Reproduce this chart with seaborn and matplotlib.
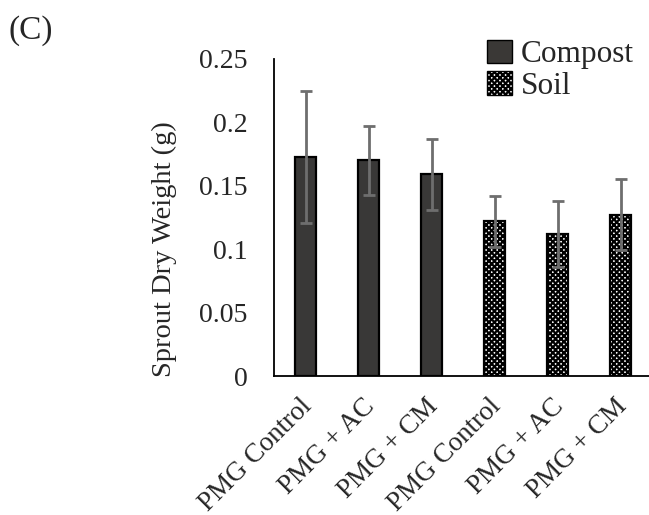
import matplotlib
matplotlib.use("Agg")
import matplotlib.pyplot as plt
import matplotlib.patches as mpatches
import matplotlib.transforms as mtransforms
import numpy as np
import pandas as pd
import seaborn as sns

# Sprout dry weight by treatment and growing medium
treatments = ["PMG Control", "PMG + AC", "PMG + CM", "PMG Control", "PMG + AC", "PMG + CM"]
media = ["Compost", "Compost", "Compost", "Soil", "Soil", "Soil"]
means = [0.173, 0.170, 0.159, 0.122, 0.112, 0.127]
errors = [0.052, 0.027, 0.028, 0.020, 0.026, 0.028]
y_ticks = [0, 0.05, 0.1, 0.15, 0.2, 0.25]
y_tick_labels = ["0", "0.05", "0.1", "0.15", "0.2", "0.25"]

sns.set_theme(style="white")
plt.rcParams["font.family"] = ["Liberation Serif", "DejaVu Serif"]
plt.rcParams["hatch.linewidth"] = 1.6
plt.rcParams["hatch.color"] = "black"

df = pd.DataFrame({
    "slot": [f"{m}|{t}" for m, t in zip(media, treatments)],
    "Treatment": treatments,
    "Medium": media,
    "Weight": means,
})

fig = plt.figure(figsize=(6.49, 5.15), dpi=100)
ax = fig.add_axes([274 / 649, 139 / 515, 378 / 649, 317 / 515])

palette = {"Compost": "#3a3836", "Soil": "white"}
sns.barplot(data=df, x="slot", y="Weight", hue="Medium", dodge=False,
            palette=palette, errorbar=None, width=0.333, ax=ax,
            edgecolor="black", linewidth=1.6, legend=False)

for patch, medium in zip(ax.patches, media):
    if medium == "Soil":
        patch.set_hatch("xxxxxx")

ax.errorbar(np.arange(len(means)), means, yerr=errors, fmt="none",
            ecolor="#6e6e6e", elinewidth=2.0, capsize=4.3, capthick=2.0, zorder=5)

ax.set_xlim(-0.5, len(means) - 0.5)
ax.set_ylim(0, 0.25)
ax.set_yticks(y_ticks)
ax.set_yticklabels(y_tick_labels, fontsize=20)
ax.set_xticks(np.arange(len(treatments)))
ax.set_xticklabels(treatments, rotation=45, ha="right", rotation_mode="anchor", fontsize=19.5)
ax.tick_params(axis="both", length=0)
ax.tick_params(axis="y", pad=19)
ax.tick_params(axis="x", pad=13)

# nudge the slanted category labels slightly left
shift = mtransforms.ScaledTranslation(-6 / 100, 0, fig.dpi_scale_trans)
for lbl in ax.get_xticklabels():
    lbl.set_transform(lbl.get_transform() + shift)

ax.set_xlabel("")
ax.set_ylabel("Sprout Dry Weight (g)", fontsize=20.5)
ax.yaxis.set_label_coords(-0.257, 0.40)

for side in ["top", "right"]:
    ax.spines[side].set_visible(False)
for side in ["left", "bottom"]:
    ax.spines[side].set_color("black")
    ax.spines[side].set_linewidth(1.3)

handles = [
    mpatches.Patch(facecolor=palette["Compost"], edgecolor="black", linewidth=1.0, label="Compost"),
    mpatches.Patch(facecolor="white", edgecolor="black", linewidth=1.0, hatch="xxxxxx", label="Soil"),
]
fig.legend(handles=handles, loc="upper left", bbox_to_anchor=(474 / 649, 1 - 27 / 515),
           frameon=False, fontsize=22.5, handlelength=0.8, handleheight=0.8,
           handletextpad=0.3, labelspacing=0.05, borderaxespad=0)

fig.text(8 / 649, 1 - 15 / 515, "(C)", fontsize=24, va="top", ha="left")

fig.savefig("out.png", dpi=100)
